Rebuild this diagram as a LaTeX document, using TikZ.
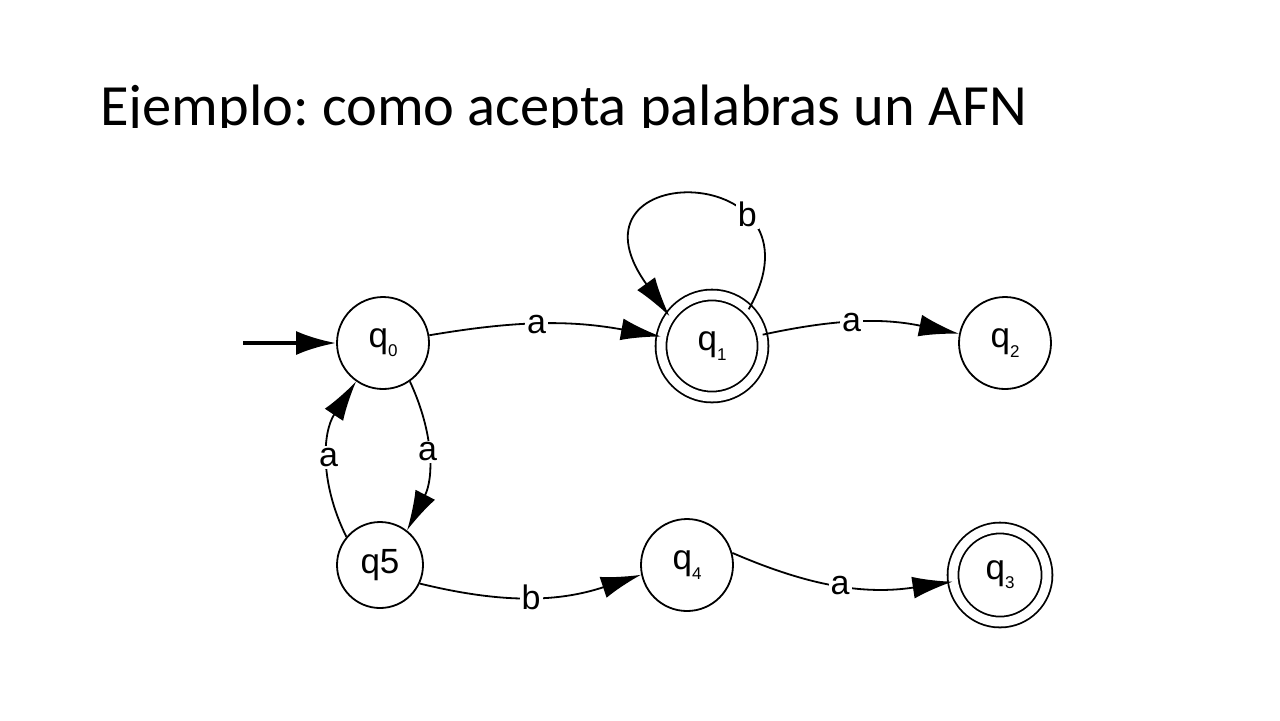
\documentclass[tikz,border=0pt]{standalone}
\usepackage{fontspec}
\setmainfont{Liberation Sans}
\newfontfamily\titlefont{Carlito}
\usetikzlibrary{arrows.meta}
\frenchspacing
\newcommand\qsub[1]{\raisebox{-0.5ex}{\fontsize{8.5}{9}\selectfont #1}}
\begin{document}
\begin{tikzpicture}[x=0.5pt,y=-0.5pt,
  state/.style={draw,circle,line width=0.9pt,minimum size=46pt,inner sep=0pt,font=\fontsize{17.5}{18}\selectfont},
  acc/.style={state,double,double distance=4.5pt,minimum size=51pt},
  edge/.style={line width=0.9pt,-{Latex[length=20pt,width=11pt]}},
  lbl/.style={fill=white,inner sep=1pt,font=\fontsize{17}{17}\selectfont}]
\useasboundingbox (0,0) rectangle (1280,720);
\fill[white] (0,0) rectangle (1280,720);
\begin{scope}
\clip (0,0) rectangle (1280,127);
\node[anchor=base west,inner sep=0pt,font=\titlefont\fontsize{29.2}{30}\selectfont] (title) at (100,125) {Ejemplo: como acepta palabras un AFN};
\end{scope}
\node[state] (q0) at (383,343) {q\qsub{0}};
\node[acc] (q1) at (712,346) {q\qsub{1}};
\node[state] (q2) at (1005,343) {q\qsub{2}};
\node[state,minimum size=43pt] (q5) at (380,565) {q5};
\node[state] (q4) at (687,565) {q\qsub{4}};
\node[acc,minimum size=47pt] (q3) at (1000,575) {q\qsub{3}};
\coordinate (start) at (243,343);
\draw[line width=2pt,-{Latex[length=20pt,width=12pt]}] (start) -- (q0);
\draw[edge] (q0) to[bend left=10] node[lbl,pos=0.46] {a} (q1);
\draw[edge] (q1.45) .. controls +(85,-150) and +(-115,-160) .. node[lbl,pos=0.3] {b} (q1.145);
\draw[edge] (q1) to[bend left=12] node[lbl,pos=0.45] {a} (q2);
\draw[edge] (q0.-55) to[bend left=26] node[lbl,pos=0.47] {a} (q5.52);
\draw[edge] (q5.140) to[bend left=30] node[lbl,pos=0.5] {a} (q0.235);
\draw[edge] (q5.-25) to[bend right=16] node[lbl,pos=0.5] {b} (q4.192);
\draw[edge] (q4.15) to[bend right=16] node[lbl,pos=0.5] {a} (q3.188);
\end{tikzpicture}
\end{document}
